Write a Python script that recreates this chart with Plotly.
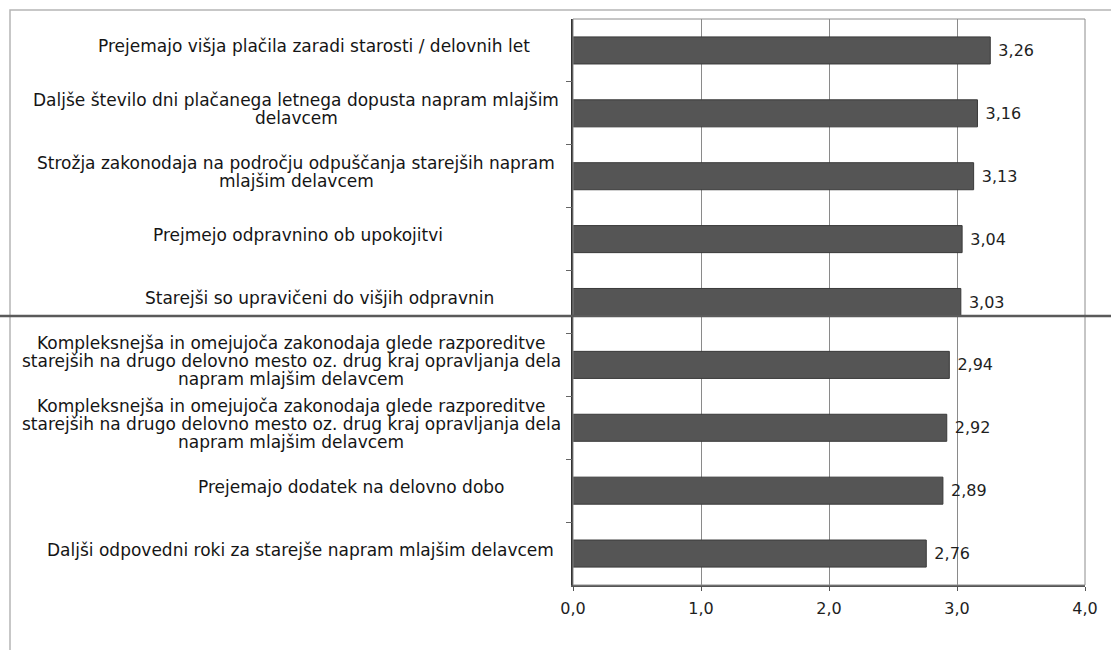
import plotly.graph_objects as go

categories = [
    "Prejemajo višja plačila zaradi starosti / delovnih let",
    "Daljše število dni plačanega letnega dopusta napram mlajšim<br>delavcem",
    "Strožja zakonodaja na področju odpuščanja starejših napram<br>mlajšim delavcem",
    "Prejmejo odpravnino ob upokojitvi",
    "Starejši so upravičeni do višjih odpravnin",
    "Kompleksnejša in omejujoča zakonodaja glede razporeditve<br>starejših na drugo delovno mesto oz. drug kraj opravljanja dela<br>napram mlajšim delavcem",
    "Kompleksnejša in omejujoča zakonodaja glede razporeditve<br>starejših na drugo delovno mesto oz. drug kraj opravljanja dela<br>napram mlajšim delavcem",
    "Prejemajo dodatek na delovno dobo",
    "Daljši odpovedni roki za starejše napram mlajšim delavcem",
]
values = [3.26, 3.16, 3.13, 3.04, 3.03, 2.94, 2.92, 2.89, 2.76]
x_ticks = [0, 1, 2, 3, 4]

# layout geometry (pixels)
W, H = 1111, 650
L, R, T, B = 573, 1085, 19, 585


def px(xp):
    return (xp - L) / (R - L)


def py(yp):
    return 1 - (yp - T) / (B - T)


label_centers = [314, 296, 296, 298, 319, 291, 291, 351, 300]

n = len(categories)
ypos = list(range(n))

fig = go.Figure()
fig.add_trace(go.Bar(
    x=values, y=ypos, orientation="h",
    marker=dict(color="#555555", line=dict(color="#3a3a3a", width=1)),
    text=values, texttemplate=" %{x:.2f}", textposition="outside",
    textfont=dict(family="DejaVu Sans", size=16, color="#1e1e1e"),
    cliponaxis=False, width=0.43, showlegend=False,
))
# invisible trace to bind yaxis2 (category boundary ticks)
fig.add_trace(go.Scatter(x=[None], y=[None], yaxis="y2", showlegend=False))

annotations = []
LINE_H = 18
for i, (cat, cx) in enumerate(zip(categories, label_centers)):
    lines = cat.split("<br>")
    m = len(lines)
    for j, ln in enumerate(lines):
        annotations.append(dict(
            text=ln, xref="paper", yref="y", x=px(cx), y=i,
            xanchor="center", yanchor="middle", showarrow=False,
            yshift=4 + ((m - 1) / 2 - j) * LINE_H,
            font=dict(family="DejaVu Sans", size=17, color="#151515"),
        ))

shapes = [
    # outer frame
    dict(type="rect", xref="paper", yref="paper", x0=px(10), x1=px(1125),
         y0=py(665), y1=py(10), line=dict(color="#b5b5b5", width=1.5), layer="below"),
    # plot area border
    dict(type="rect", xref="paper", yref="paper", x0=0, x1=1, y0=0, y1=1,
         line=dict(color="#8c8c8c", width=1), layer="above"),
    # separator line
    dict(type="line", xref="paper", yref="paper", x0=px(-5), x1=px(1120),
         y0=py(316), y1=py(316), line=dict(color="#5a5a5a", width=2.5)),
]

fig.update_layout(
    width=W, height=H,
    margin=dict(l=L, r=W - R, t=T, b=H - B),
    paper_bgcolor="white", plot_bgcolor="white",
    separators=",.",
    bargap=0.57,
    xaxis=dict(range=[0, 4], tickvals=x_ticks, tickformat=".1f",
               showgrid=True, gridcolor="#8a8a8a", gridwidth=1,
               ticks="outside", ticklen=4, tickcolor="#555",
               showline=True, linecolor="#555", linewidth=1.5,
               tickfont=dict(family="DejaVu Sans", size=16, color="#1e1e1e"),
               ticklabelstandoff=4,
               zeroline=False, fixedrange=True),
    yaxis=dict(range=[n - 0.5, -0.5], showticklabels=False, ticks="",
               showgrid=False, zeroline=False,
               showline=True, linecolor="#333", linewidth=1.5),
    yaxis2=dict(overlaying="y", side="left", range=[n - 0.5, -0.5],
                tickvals=[k + 0.5 for k in range(n - 1)],
                ticks="outside", ticklen=6, tickcolor="#666",
                showticklabels=False, showgrid=False, zeroline=False,
                showline=False),
    annotations=annotations,
    shapes=shapes,
    font=dict(family="DejaVu Sans"),
)

fig.write_html("out.html")
